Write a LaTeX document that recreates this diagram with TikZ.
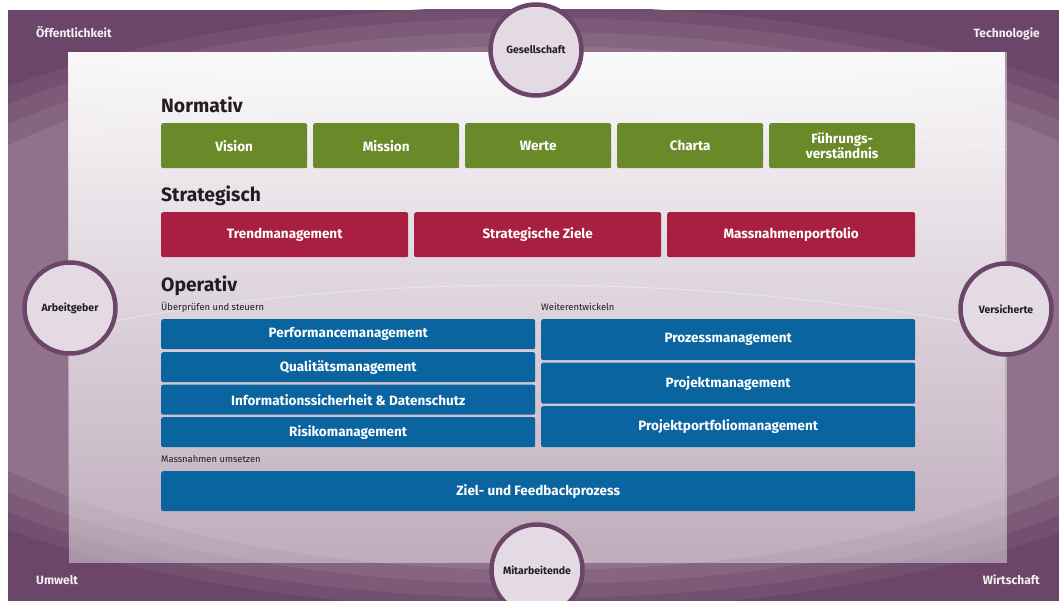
\documentclass[tikz,border=0pt]{standalone}
\usepackage{fontspec}
\setmainfont{Fira Sans}
\usetikzlibrary{fadings}

\definecolor{lila}{HTML}{6B4669}
\definecolor{ringA}{HTML}{73506F}
\definecolor{ringB}{HTML}{7C5A78}
\definecolor{ringC}{HTML}{866582}
\definecolor{ringD}{HTML}{91718C}
\definecolor{kreis}{HTML}{E4DAE3}
\definecolor{gruen}{HTML}{6A8A2A}
\definecolor{rot}{HTML}{A81F41}
\definecolor{blau}{HTML}{0A64A0}
\definecolor{schrift}{HTML}{231C22}

\begin{document}
\begin{tikzpicture}[x=1pt, y=-1pt,
  feld/.style={rounded corners=2pt, text=white, anchor=north west, inner sep=0pt,
    align=center, font=\bfseries\fontsize{13.5}{15}\selectfont},
  kopf/.style={anchor=base west, inner sep=0pt, text=schrift,
    font=\bfseries\fontsize{19.3}{21}\selectfont},
  klein/.style={anchor=base west, inner sep=0pt, text=schrift,
    font=\fontsize{9.4}{11}\selectfont},
  ecke/.style={inner sep=0pt, text=white!92!lila, font=\bfseries\fontsize{12}{14}\selectfont},
  partner/.style={circle, fill=kreis, draw=lila, line width=4.5pt, minimum size=91,
    inner sep=0pt, text=schrift, font=\bfseries\fontsize{10.5}{12}\selectfont}]
  % frame and rings
  \useasboundingbox (0,0) rectangle (1059,601);
  \fill[white] (0,0) rectangle (1059,601);
  \fill[lila] (8,10) rectangle (1059,601);
  \begin{scope}
    \clip (8,10) rectangle (1059,601);
    \fill[ringA] (538,308) ellipse [x radius=780, y radius=302];
    \fill[ringB] (538,308) ellipse [x radius=745, y radius=290];
    \fill[ringC] (538,308) ellipse [x radius=710, y radius=276];
    \fill[ringD] (538,308) ellipse [x radius=675, y radius=262];
  \end{scope}
  % panel
  \fill[white, opacity=.42] (69,52) rectangle (1007,563);
  \fill[white, opacity=.94, path fading=south] (69,52) rectangle (1007,563);
  \draw[white, opacity=.35, line width=1pt] (69,132) .. controls (350,95) and (700,100) .. (1007,150);
  \draw[white, opacity=.35, line width=1pt] (69,330) .. controls (350,270) and (700,270) .. (1007,330);
  % corner labels
  \node[ecke, anchor=base west] (oeff) at (36,38) {Öffentlichkeit};
  \node[ecke, anchor=base east] (tech) at (1040,38) {Technologie};
  \node[ecke, anchor=base west] (umwelt) at (36,584) {Umwelt};
  \node[ecke, anchor=base east] (wirt) at (1040,584) {Wirtschaft};
  % Normativ
  \node[kopf] (normativ) at (161,113) {Normativ};
  \node[feld, fill=gruen, minimum width=146, minimum height=45] (vision) at (161,123) {Vision};
  \node[feld, fill=gruen, minimum width=146, minimum height=45] (mission) at (313,123) {Mission};
  \node[feld, fill=gruen, minimum width=146, minimum height=45] (werte) at (465,123) {Werte};
  \node[feld, fill=gruen, minimum width=146, minimum height=45] (charta) at (617,123) {Charta};
  \node[feld, fill=gruen, minimum width=146, minimum height=45] (fuehrung) at (769,123) {Führungs-\\verständnis};
  % Strategisch
  \node[kopf] (strategisch) at (161,202) {Strategisch};
  \node[feld, fill=rot, minimum width=247, minimum height=45] (trend) at (161,212) {Trendmanagement};
  \node[feld, fill=rot, minimum width=247, minimum height=45] (ziele) at (414,212) {Strategische Ziele};
  \node[feld, fill=rot, minimum width=248, minimum height=45] (portfolio) at (667,212) {Massnahmenportfolio};
  % Operativ
  \node[kopf] (operativ) at (161,291) {Operativ};
  \node[klein] (steuern) at (161,310) {Überprüfen und steuern};
  \node[klein] (weiter) at (541,310) {Weiterentwickeln};
  \node[feld, fill=blau, minimum width=374, minimum height=30] (perf) at (161,319) {Performancemanagement};
  \node[feld, fill=blau, minimum width=374, minimum height=30] (quali) at (161,352) {Qualitätsmanagement};
  \node[feld, fill=blau, minimum width=374, minimum height=30] (info) at (161,384.5) {Informationssicherheit \& Datenschutz};
  \node[feld, fill=blau, minimum width=374, minimum height=30] (risiko) at (161,417) {Risikomanagement};
  \node[feld, fill=blau, minimum width=374, minimum height=41] (prozess) at (541,319) {Prozessmanagement};
  \node[feld, fill=blau, minimum width=374, minimum height=41] (projekt) at (541,362.5) {Projektmanagement};
  \node[feld, fill=blau, minimum width=374, minimum height=41] (ppm) at (541,406) {Projektportfoliomanagement};
  \node[klein] (umsetzen) at (161,462) {Massnahmen umsetzen};
  \node[feld, fill=blau, minimum width=754, minimum height=40] (feedback) at (161,471) {Ziel- und Feedbackprozess};
  % stakeholders
  \node[partner] (gesellschaft) at (536,50) {Gesellschaft};
  \node[partner] (arbeitgeber) at (70,308) {Arbeitgeber};
  \node[partner] (versicherte) at (1006,309) {Versicherte};
  \node[partner] (mitarbeitende) at (537,570) {Mitarbeitende};
\end{tikzpicture}
\end{document}
